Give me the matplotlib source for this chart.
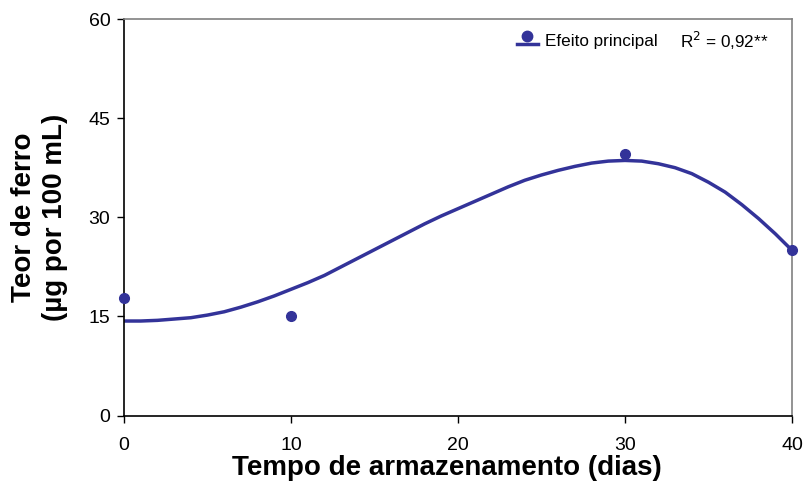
import numpy as np
import matplotlib.pyplot as plt

plt.rcParams['font.family'] = ['Liberation Sans', 'DejaVu Sans']

# observed iron content (ug per 100 mL) by storage day
dias = [0, 10, 30, 40]
teor = [17.8, 15.1, 39.6, 25.0]

# fitted trend curve, read day by day
dias_ajuste = list(range(0, 41))
teor_ajuste = [14.3, 14.3, 14.4, 14.6, 14.8, 15.2, 15.7, 16.4, 17.2, 18.1,
               19.1, 20.1, 21.2, 22.5, 23.8, 25.1, 26.4, 27.7, 29.0, 30.2,
               31.3, 32.4, 33.5, 34.6, 35.6, 36.4, 37.1, 37.7, 38.2, 38.5,
               38.6, 38.5, 38.1, 37.5, 36.6, 35.3, 33.8, 31.9, 29.8, 27.5,
               25.0]

cor = '#333399'

fig = plt.figure(figsize=(8.07, 4.84), dpi=100)
ax = fig.add_axes([0.1537, 0.1415, 0.8277, 0.8192])

ax.plot(dias_ajuste, teor_ajuste, color=cor, linewidth=2.5, solid_capstyle='round')
ax.plot(dias, teor, 'o', color=cor, markersize=7, clip_on=False, zorder=5)

ax.set_xlim(0, 40)
ax.set_ylim(0, 60)
ax.set_xticks([0, 10, 20, 30, 40])
ax.set_yticks([0, 15, 30, 45, 60])
ax.tick_params(labelsize=14, direction='out', length=4.8, width=1)
ax.tick_params(axis='x', pad=11)
ax.tick_params(axis='y', pad=5)

for lado in ['top', 'right']:
    ax.spines[lado].set_color('#808080')
    ax.spines[lado].set_linewidth(1.2)
for lado in ['left', 'bottom']:
    ax.spines[lado].set_linewidth(1.2)

ax.set_xlabel('Tempo de armazenamento (dias)', fontsize=20, fontweight='bold')
ax.xaxis.set_label_coords(0.4835, -0.099)
ax.set_ylabel('Teor de ferro\n(µg por 100 mL)', fontsize=20, fontweight='bold',
              linespacing=1.25)
ax.yaxis.set_label_coords(-0.084, 0.5)

# legend key: marker sits above the line segment
ax.plot([0.588, 0.620], [0.938, 0.938], color=cor, linewidth=2.5,
        transform=ax.transAxes, clip_on=False)
ax.plot([0.603], [0.957], 'o', color=cor, markersize=7.5,
        transform=ax.transAxes, clip_on=False)
ax.text(0.630, 0.944, 'Efeito principal', transform=ax.transAxes, fontsize=12.3,
        va='center', ha='left')
ax.text(0.832, 0.944, r'R$^2$ = 0,92**', transform=ax.transAxes, fontsize=12.3,
        va='center', ha='left')

fig.savefig('out.png', dpi=100)
